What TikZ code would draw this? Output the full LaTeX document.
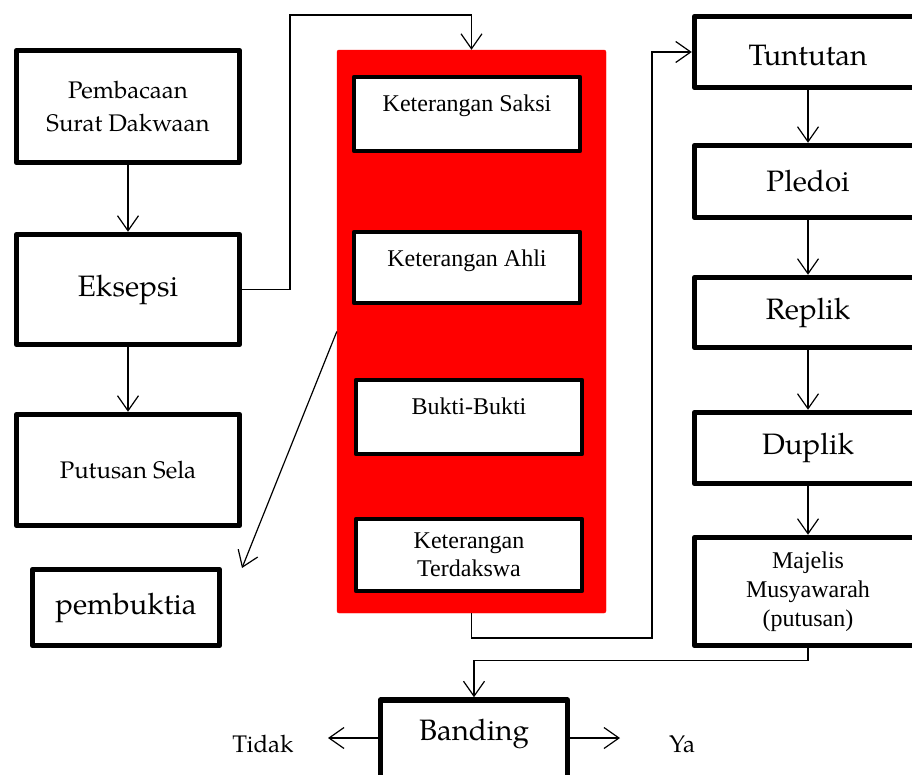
\documentclass[tikz,border=0pt]{standalone}
\usepackage{fontspec}
\setmainfont{Liberation Serif}
\newfontfamily\pal{TeX Gyre Pagella}
\usetikzlibrary{arrows.meta,calc}
\begin{document}
\begin{tikzpicture}[x=1pt,y=-1pt,
  obox/.style={draw, line width=5.5pt, line join=round, fill=white, inner sep=0pt, align=center},
  ibox/.style={draw, line width=4.5pt, line join=round, fill=white, inner sep=0pt, align=center,
     minimum width=226pt, font=\fontsize{24}{28}\selectfont},
  bigtxt/.style={font=\pal\fontsize{29.5}{33}\selectfont},
  smalltxt/.style={font=\pal\fontsize{24}{33}\selectfont},
  timestxt/.style={font=\fontsize{24}{29}\selectfont},
  conn/.style={line width=1.2pt, -{Straight Barb[length=15pt,width=21pt]}},
  plain/.style={line width=1.2pt}
]
\useasboundingbox (0,0) rectangle (912,774);
% left column
\node[obox, smalltxt, minimum width=223pt, minimum height=112pt] (pem) at (128,106.5) {Pembacaan\\Surat Dakwaan};
\node[obox, bigtxt, minimum width=223pt, minimum height=110pt] (eks) at (128,289.5) {Eksepsi};
\node[obox, smalltxt, minimum width=223pt, minimum height=111pt] (put) at (128,470) {Putusan Sela};
\node[obox, bigtxt, minimum width=187pt, minimum height=76pt] (pbk) at (126,607.5) {pembuktia};
% red panel
\node[fill=red, draw=red, rounded corners=2pt, minimum width=269pt, minimum height=563pt, inner sep=0pt] (red) at (471.5,331.5) {};
\node[ibox, text height=34pt, text depth=40pt] (ks) at (467,114) {Keterangan Saksi};
\node[ibox, text height=34pt, text depth=37pt] (ka) at (467,267.5) {Keterangan Ahli};
\node[ibox, text height=34pt, text depth=40pt] (bb) at (469,417) {Bukti-Bukti};
\node[ibox, minimum height=72pt] (kt) at (469,555) {Keterangan\\Terdakswa};
% right column
\node[obox, bigtxt, minimum width=227pt, minimum height=71pt, text height=48.5pt, text depth=22.5pt] (tun) at (808,52) {Tuntutan};
\node[obox, bigtxt, minimum width=227pt, minimum height=72pt] (ple) at (808,181.5) {Pledoi};
\node[obox, bigtxt, minimum width=227pt, minimum height=70pt] (rep) at (808,312.5) {Replik};
\node[obox, bigtxt, minimum width=227pt, minimum height=71pt] (dup) at (808,448) {Duplik};
\node[obox, timestxt, minimum width=227pt, minimum height=108pt] (maj) at (808,591.5) {Majelis\\Musyawarah\\(putusan)};
% bottom
\node[obox, bigtxt, minimum width=187pt, minimum height=85pt, text height=40pt, text depth=45pt] (ban) at (474,742.5) {Banding};
\node[smalltxt, inner sep=0pt] (tid) at (263,744) {Tidak};
\node[smalltxt, inner sep=0pt] (ya) at (682,744) {Ya};
\coordinate (tidA) at (328,738);
\coordinate (yaA) at (620,738);
\coordinate (c1) at (290,15);
\coordinate (c2) at (652,638);
\coordinate (pbA) at (242,568);
% connectors
\draw[conn] (pem.south) -- (eks.north);
\draw[conn] (eks.south) -- (put.north);
\draw[conn] (eks.east) -| (c1) -| (red.north);
\draw[conn] (red.west) -- (pbA);
\draw[conn] (red.south) |- (c2) |- (tun.west);
\draw[conn] (tun.south) -- (ple.north);
\draw[conn] (ple.south) -- (rep.north);
\draw[conn] (rep.south) -- (dup.north);
\draw[conn] (dup.south) -- (maj.north);
\draw[conn] (maj.south) -- ++(0,12) -| (ban.north);
\draw[conn] (ban.west |- tidA) -- (tidA);
\draw[conn] (ban.east |- yaA) -- (yaA);
\end{tikzpicture}
\end{document}
